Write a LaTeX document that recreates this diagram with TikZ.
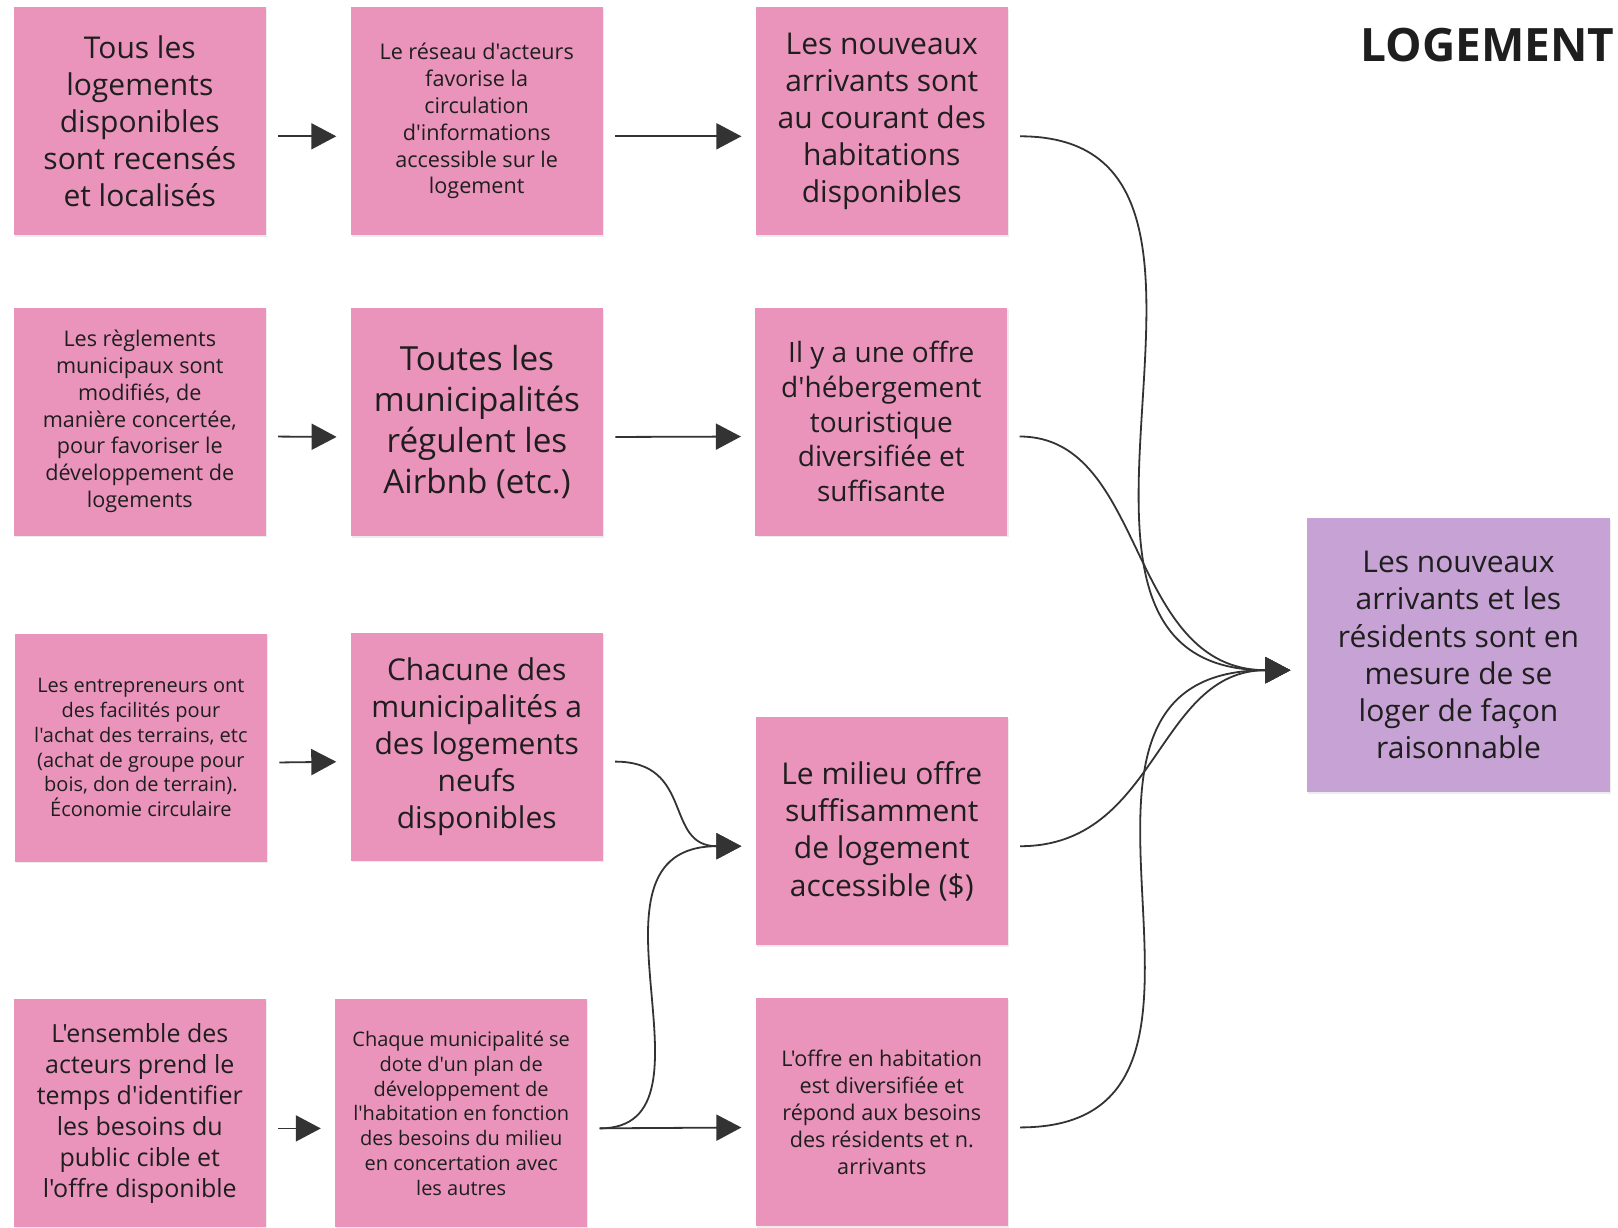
\documentclass[tikz,border=0pt]{standalone}
\usepackage{fontspec}
\setmainfont{Open Sans}[Ligatures=TeXOff]
\usetikzlibrary{arrows.meta, shadows}
\definecolor{notepink}{HTML}{EA94BB}
\definecolor{notepurple}{HTML}{C7A2D4}
\definecolor{ink}{HTML}{1E1E1E}
\definecolor{linkgray}{HTML}{333333}
\tikzstyle{note} = [rectangle, fill=notepink, minimum width=126pt, minimum height=114pt, inner sep=0pt, align=center, text=ink,
  drop shadow={shadow xshift=0.6pt, shadow yshift=-0.9pt, opacity=0.15}]
\tikzstyle{arrow} = [linkgray, line width=0.9pt, -{Triangle[length=12.5pt,width=13pt]}, shorten <=6pt, shorten >=7pt]
\tikzstyle{bigtext} = [font=\fontsize{15pt}{18.6pt}\selectfont]
\tikzstyle{hugetext} = [font=\fontsize{16.6pt}{20.6pt}\selectfont]
\tikzstyle{midtext} = [font=\fontsize{14pt}{17.3pt}\selectfont]
\tikzstyle{medtext} = [font=\fontsize{12.5pt}{15.5pt}\selectfont]
\tikzstyle{smalltext} = [font=\fontsize{10.8pt}{13.4pt}\selectfont]
\tikzstyle{tinytext} = [font=\fontsize{10pt}{12.4pt}\selectfont]

\begin{document}
\begin{tikzpicture}[x=0.5pt, y=-0.5pt]
        \useasboundingbox (0,0) rectangle (1618,1227);

        % Title
        \node[anchor=east, inner sep=0pt, text=ink, font=\fontsize{23pt}{27pt}\selectfont\bfseries] (title) at (1615,45) {LOGEMENT};

        % Row 1
        \node[note, bigtext] (r1c1) at (139.8,121.3) {Tous les\\logements\\disponibles\\sont recensés\\et localisés};
        \node[note, smalltext] (r1c2) at (476.7,121.3) {Le réseau d'acteurs\\favorise la\\circulation\\d'informations\\accessible sur le\\logement};
        \node[note, bigtext] (r1c3) at (881.8,121.3) {Les nouveaux\\arrivants sont\\au courant des\\habitations\\disponibles};

        % Row 2
        \node[note, smalltext] (r2c1) at (139.8,421.5) {Les règlements\\municipaux sont\\modifiés, de\\manière concertée,\\pour favoriser le\\développement de\\logements};
        \node[note, hugetext] (r2c2) at (477,422) {Toutes les\\municipalités\\régulent les\\Airbnb (etc.)};
        \node[note, midtext] (r2c3) at (881.3,421.5) {Il y a une offre\\d'hébergement\\touristique\\diversifiée et\\suffisante};

        % Row 3
        \node[note, tinytext] (r3c1) at (140.9,747.6) {Les entrepreneurs ont\\des facilités pour\\l'achat des terrains, etc\\(achat de groupe pour\\bois, don de terrain).\\Économie circulaire};
        \node[note, bigtext] (r3c2) at (476.7,746.6) {Chacune des\\municipalités a\\des logements\\neufs\\disponibles};
        \node[note, bigtext] (r3c3) at (881.8,831.2) {Le milieu offre\\suffisamment\\de logement\\accessible (\$)};

        % Row 4
        \node[note, medtext] (r4c1) at (139.8,1113.4) {L'ensemble des\\acteurs prend le\\temps d'identifier\\les besoins du\\public cible et\\l'offre disponible};
        \node[note, tinytext] (r4c2) at (461.2,1113.4) {Chaque municipalité se\\dote d'un plan de\\développement de\\l'habitation en fonction\\des besoins du milieu\\en concertation avec\\les autres};
        \node[note, smalltext] (r4c3) at (881.8,1112.4) {L'offre en habitation\\est diversifiée et\\répond aux besoins\\des résidents et n.\\arrivants};

        % Outcome
        \node[note, bigtext, fill=notepurple, minimum width=151.7pt, minimum height=137.2pt] (goal) at (1458.5,655.2) {Les nouveaux\\arrivants et les\\résidents sont en\\mesure de se\\loger de façon\\raisonnable};

        % Straight links
        \draw[arrow] ([yshift=-7.5pt]r1c1.east) -- ([yshift=-7.5pt]r1c2.west);
        \draw[arrow] ([yshift=-7.5pt]r2c1.east) -- ([yshift=-7.5pt]r2c2.west);
        \draw[arrow] ([yshift=-7.5pt]r3c1.east) -- ([yshift=-7.5pt]r3c2.west);
        \draw[arrow] ([yshift=-7.5pt]r4c1.east) -- ([yshift=-7.5pt]r4c2.west);
        \draw[arrow] ([yshift=-7.5pt]r1c2.east) -- ([yshift=-7.5pt]r1c3.west);
        \draw[arrow] ([yshift=-7.5pt]r2c2.east) -- ([yshift=-7.5pt]r2c3.west);
        \draw[arrow] ([yshift=-7.5pt]r4c2.east) -- ([yshift=-7.5pt]r4c3.west);

        % Curved links
        \draw[arrow] ([yshift=-7.5pt]r3c2.east) to[out=0, in=180, distance=46pt] ([yshift=-7.5pt]r3c3.west);
        \draw[arrow] ([yshift=-7.5pt]r4c2.east) to[out=0, in=180, out distance=72pt, in distance=95pt] ([yshift=-7.5pt]r3c3.west);
        \draw[arrow, shorten >=8pt] ([yshift=-7.5pt]r1c3.east) to[out=0, in=180, out distance=145pt, in distance=160pt] ([yshift=-7.5pt]goal.west);
        \draw[arrow, shorten >=8pt] ([yshift=-7.5pt]r2c3.east) to[out=0, in=180, out distance=70pt, in distance=90pt] ([yshift=-7.5pt]goal.west);
        \draw[arrow, shorten >=8pt] ([yshift=-7.5pt]r3c3.east) to[out=0, in=180, distance=75pt] ([yshift=-7.5pt]goal.west);
        \draw[arrow, shorten >=8pt] ([yshift=-7.5pt]r4c3.east) to[out=0, in=180, out distance=140pt, in distance=155pt] ([yshift=-7.5pt]goal.west);
      \end{tikzpicture}
\end{document}
